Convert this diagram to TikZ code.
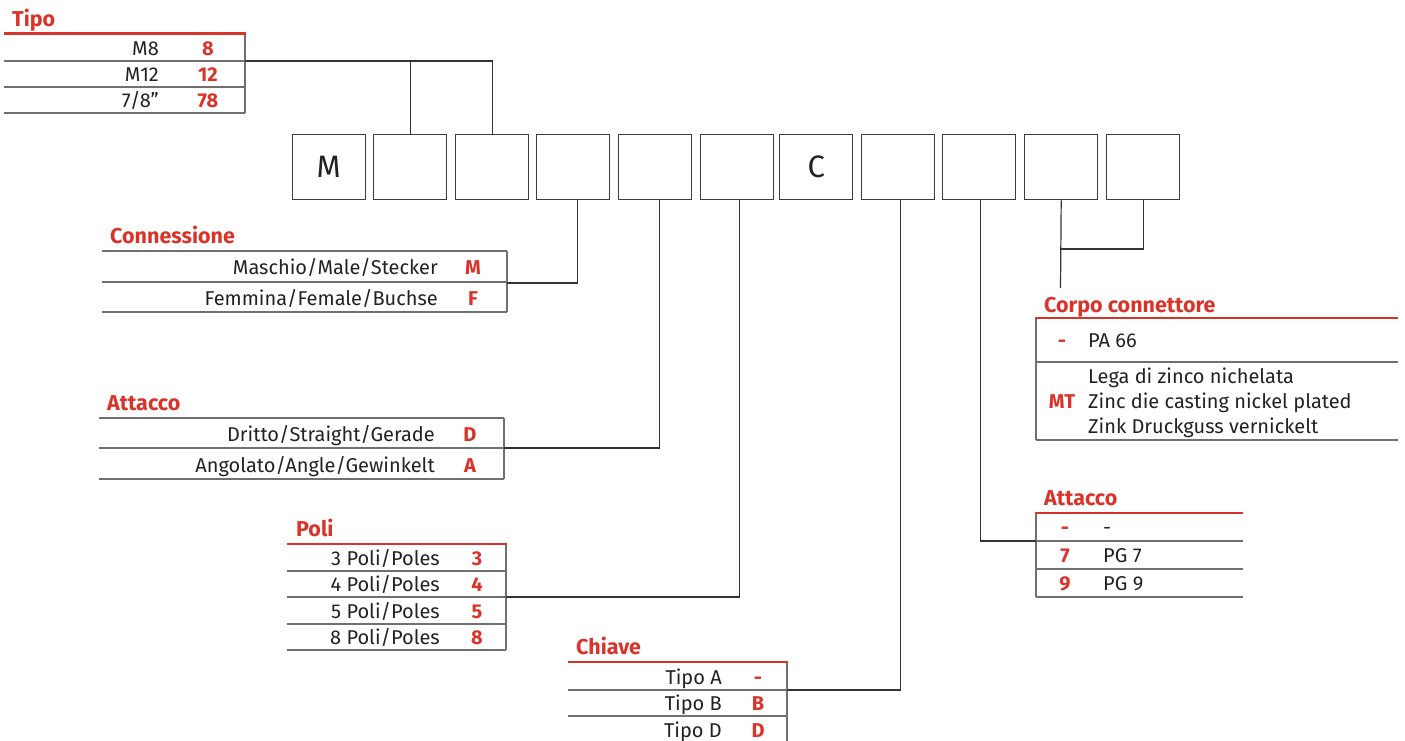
\documentclass[tikz,border=0pt]{standalone}
\usepackage{fontspec}
\setmainfont{Fira Sans}
\definecolor{rd}{HTML}{DA3329}
\definecolor{ln}{HTML}{707070}
\definecolor{bx}{HTML}{3C3C3C}
\definecolor{tx}{HTML}{222222}
\begin{document}
\begin{tikzpicture}[x=1pt,y=-1pt,
 box/.style={draw=bx,line width=1.4pt,minimum width=73pt,minimum height=65pt,anchor=north west,inner sep=0pt,font=\fontsize{31}{34}\selectfont,text=tx},
 lbl/.style={anchor=base east,inner sep=0pt,font=\fontsize{20}{24}\selectfont,text=tx},
 lbw/.style={anchor=base west,inner sep=0pt,font=\fontsize{20}{24}\selectfont,text=tx},
 val/.style={anchor=base,inner sep=0pt,font=\fontsize{20}{24}\selectfont\bfseries,text=rd},
 ttl/.style={anchor=base west,inner sep=0pt,font=\fontsize{21.5}{24}\selectfont\bfseries,text=rd},
 tline/.style={draw=ln,line width=1.2pt},
 redl/.style={draw=rd,line width=2.4pt},
 conn/.style={draw=black!80,line width=1.2pt}]
\useasboundingbox (0,0) rectangle (1405,740);

% code boxes
\node[box] (b1) at (291.5,134) {M};
\node[box] (b2) at (373,134) {};
\node[box] (b3) at (455,134) {};
\node[box] (b4) at (536,134) {};
\node[box] (b5) at (618,134) {};
\node[box] (b6) at (700,134) {};
\node[box] (b7) at (779,134) {C};
\node[box] (b8) at (861,134) {};
\node[box] (b9) at (942,134) {};
\node[box] (b10) at (1024,134) {};
\node[box] (b11) at (1106,134) {};

% Tipo
\node[ttl] (tipoT) at (12,26) {Tipo};
\draw[tline] (4,61) -- (245,61) (4,87) -- (245,87) (4,113) -- (245,113) (245,33) -- (245,113);
\draw[redl] (4,33.5) -- (246,33.5);
\node[lbl] (t1) at (159,55) {M8};
\node[lbl] (t2) at (159,81) {M12};
\node[lbl] (t3) at (159,107) {7/8”};
\node[val] (tv1) at (208,55) {8};
\node[val] (tv2) at (208,81) {12};
\node[val] (tv3) at (208,107) {78};
\coordinate (tipoR) at (245,61);
\draw[conn] (tipoR) -| (b3.north);
\draw[conn] (b2.north) -- (b2.north |- tipoR);

% Connessione
\node[ttl] (conT) at (110,243) {Connessione};
\draw[tline] (102,251) -- (507,251) (102,282) -- (507,282) (102,312) -- (507,312) (507,251) -- (507,312);
\node[lbl] (c1) at (438,274) {Maschio/Male/Stecker};
\node[lbl] (c2) at (438,305) {Femmina/Female/Buchse};
\node[val] (cv1) at (473,274) {M};
\node[val] (cv2) at (473,305) {F};
\coordinate (conR) at (507,283);
\draw[conn] (conR) -| ([xshift=4.5pt]b4.south);

% Attacco (left)
\node[ttl] (atT) at (107,410) {Attacco};
\draw[tline] (99,418) -- (504,418) (99,448) -- (504,448) (99,479) -- (504,479) (504,418) -- (504,479);
\node[lbl] (a1) at (435,441) {Dritto/Straight/Gerade};
\node[lbl] (a2) at (435,472) {Angolato/Angle/Gewinkelt};
\node[val] (av1) at (470,441) {D};
\node[val] (av2) at (470,472) {A};
\coordinate (atR) at (504,448);
\draw[conn] (atR) -| ([xshift=4.5pt]b5.south);

% Poli
\node[ttl] (poT) at (296,536) {Poli};
\draw[tline] (287,571) -- (506,571) (287,597) -- (506,597) (287,624) -- (506,624) (287,650) -- (506,650) (506,544) -- (506,650);
\draw[redl] (287,544) -- (507,544);
\node[lbl] (p1) at (440,565) {3 Poli/Poles};
\node[lbl] (p2) at (440,591.5) {4 Poli/Poles};
\node[lbl] (p3) at (440,618) {5 Poli/Poles};
\node[lbl] (p4) at (440,644.5) {8 Poli/Poles};
\node[val] (pv1) at (477,565) {3};
\node[val] (pv2) at (477,591.5) {4};
\node[val] (pv3) at (477,618) {5};
\node[val] (pv4) at (477,644.5) {8};
\coordinate (poR) at (506,597);
\draw[conn] (poR) -| ([xshift=2.5pt]b6.south);

% Chiave
\node[ttl] (chT) at (576,654) {Chiave};
\draw[tline] (568,690) -- (787,690) (568,716) -- (787,716) (568,742) -- (787,742) (787,662) -- (787,742);
\draw[redl] (568,662) -- (788,662);
\node[lbl] (k1) at (722,684) {Tipo A};
\node[lbl] (k2) at (722,710.5) {Tipo B};
\node[lbl] (k3) at (722,737) {Tipo D};
\node[val] (kv1) at (758,684) {-};
\node[val] (kv2) at (758,710.5) {B};
\node[val] (kv3) at (758,737) {D};
\coordinate (chR) at (787,690);
\draw[conn] (chR) -| ([xshift=2.5pt]b8.south);

% Attacco (right)
\node[ttl] (arT) at (1044,505) {Attacco};
\draw[tline] (1036,541) -- (1243,541) (1036,569) -- (1243,569) (1036,597) -- (1243,597) (1036,513) -- (1036,597);
\draw[redl] (1035,513) -- (1243,513);
\node[val] (rv1) at (1065,534) {-};
\node[val] (rv2) at (1065,562) {7};
\node[val] (rv3) at (1065,590) {9};
\node[lbw] (r1) at (1103,534) {-};
\node[lbw] (r2) at (1103,562) {PG 7};
\node[lbw] (r3) at (1103,590) {PG 9};
\coordinate (arL) at (1036,541);
\draw[conn] ([xshift=1.5pt]b9.south) |- (arL);

% Corpo connettore
\node[ttl] (coT) at (1044,312) {Corpo connettore};
\draw[tline] (1036,362) -- (1398,362) (1036,440) -- (1398,440) (1036,318) -- (1036,440);
\draw[redl] (1035,318) -- (1398,318);
\node[val] (ov1) at (1062,347) {-};
\node[lbw] (o1) at (1088,347) {PA 66};
\node[val] (ov2) at (1062,408) {MT};
\node[lbw] (o2) at (1088,383) {Lega di zinco nichelata};
\node[lbw] (o3) at (1088,408) {Zinc die casting nickel plated};
\node[lbw] (o4) at (1088,433) {Zink Druckguss vernickelt};
\coordinate (coTop) at (1060.5,288);
\draw[conn] (b10.south) -- (coTop);
\draw[conn] (b11.south) |- (b10.south |- 0,249);
\end{tikzpicture}
\end{document}
